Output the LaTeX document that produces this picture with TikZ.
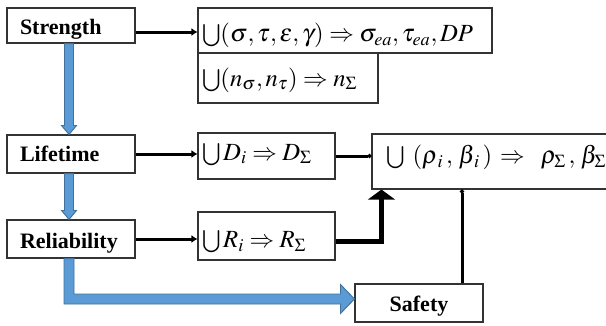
\documentclass[tikz,border=0pt]{standalone}
\usepackage{mathptmx}
\usepackage[no-math]{fontspec}
\setmainfont{Liberation Serif}
\newfontfamily\lblfont{Liberation Serif}
\usetikzlibrary{arrows.meta,calc}
\definecolor{bfill}{HTML}{5B9BD5}
\definecolor{bline}{HTML}{41719C}
\tikzset{
  lbl/.style={draw=black!80,line width=0.8pt,fill=white,inner ysep=0pt,inner xsep=9.75pt,
    font=\lblfont\fontsize{16.5}{18}\selectfont\bfseries,text width=76.5pt,align=left,
    text depth=0pt},
  lblc/.style={draw=black!80,line width=0.8pt,fill=white,inner sep=0pt,
    font=\lblfont\fontsize{16.5}{18}\selectfont\bfseries,minimum width=96pt,text depth=0pt},
  fbox/.style={draw=black!80,line width=0.8pt,fill=white,inner ysep=0pt,inner xsep=3pt,
    align=left,font=\fontsize{18.5}{22}\selectfont,text depth=0pt},
  blk/.style={line width=2.25pt,-{Latex[length=4.5pt,width=6pt]}},
  blkdot/.style={line width=2.25pt,-{Circle[length=3pt]}},
  blkthick/.style={line width=3.75pt,miter limit=10,-{Triangle[length=7.5pt,width=20pt]}},
  bluearrow/.style={fill=bfill,draw=bline,line width=0.7pt,line join=miter},
}
\newcommand\bcup{\mathop{\textstyle\bigcup}}
\newcommand\bluedown[2]{%
  \filldraw[bluearrow] ($(#1.south)+(-6.5,0)$) -- ($(#1.south |- #2.north)+(-6.5,-9)$)
    -- ($(#1.south |- #2.north)+(-9.5,-9)$) -- ($(#1.south |- #2.north)+(-2,0)$)
    -- ($(#1.south |- #2.north)+(5.5,-9)$) -- ($(#1.south |- #2.north)+(2.5,-9)$)
    -- ($(#1.south)+(2.5,0)$) -- cycle;}
\begin{document}
\begin{tikzpicture}[x=0.75pt,y=-0.75pt]
\useasboundingbox (0,0) rectangle (606,325);
\clip (0,0) rectangle (606,325);
% label boxes
\node[lbl,minimum height=26.25pt,text height=13.8pt] (strength) at (71,25.5) {Strength};
\node[lbl,minimum height=28.5pt,text height=10.5pt] (life) at (71,154) {Lifetime};
\node[lbl,minimum height=28.5pt,text height=13.5pt] (rel) at (71,239) {Reliability};
\node[lblc,minimum height=28.5pt,text height=13pt] (safety) at (419,303) {Safety};
% formula boxes
\node[fbox,text width=214.5pt,minimum height=33.75pt,text height=16.2pt] (f1) at (345,30.5)
  {$\bcup(\sigma,\tau,\varepsilon,\gamma)\Rightarrow\sigma_{ea},\tau_{ea},DP$};
\node[fbox,text width=129pt,minimum height=37.5pt,text height=12.4pt] (f2) at (288,78)
  {$\bcup(n_\sigma,n_\tau)\Rightarrow n_\Sigma$};
\node[fbox,text width=96.75pt,minimum height=34.5pt,text height=6.4pt] (fD) at (266.5,156)
  {$\bcup D_i\Rightarrow D_\Sigma$};
\node[fbox,text width=96.75pt,minimum height=36pt,text height=17pt] (fR) at (266.5,236)
  {$\bcup R_i\Rightarrow R_\Sigma$};
\node[fbox,inner xsep=10.5pt,text width=165pt,minimum height=41.25pt,text height=3.4pt] (rho) at (496,161.5)
  {$\bcup\;\,(\rho_{\,i}\,,\,\beta_{\,i}\,)\,\Rightarrow\;\;\rho_{\Sigma}\,,\,\beta_{\Sigma}$};
% blue arrows
\bluedown{strength}{life}
\bluedown{life}{rel}
\filldraw[bluearrow] ($(rel.south)+(-7,0)$) -- ($(rel.south |- safety.west)+(-7,1)$)
  -- ($(safety.west)+(-14,1)$) -- ($(safety.west)+(-14,10.5)$) -- ($(safety.west)+(0,-4)$)
  -- ($(safety.west)+(-14,-18.5)$) -- ($(safety.west)+(-14,-9)$)
  -- ($(rel.south |- safety.west)+(3,-9)$) -- ($(rel.south)+(3,0)$) -- cycle;
% black connectors
\coordinate (se) at ($(strength.east)+(0,6.5)$);
\draw[blk] (se) -- (se -| f1.west);
\draw[blk] (life.east) -- (life.east -| fD.west);
\draw[blk] (rel.east) -- (rel.east -| fR.west);
\draw[blkdot] (fD.east) -- (fD.east -| rho.west);
\coordinate (rs) at ($(fR.east)+(0,5)$);
\coordinate (rx) at ($(rho.south west)+(10,0)$);
\draw[blkthick] (rs) -| (rx);
\coordinate (sx) at ($(safety.north)+(43,0)$);
\draw[blkdot] (sx) -- (sx |- rho.south);
\end{tikzpicture}
\end{document}
